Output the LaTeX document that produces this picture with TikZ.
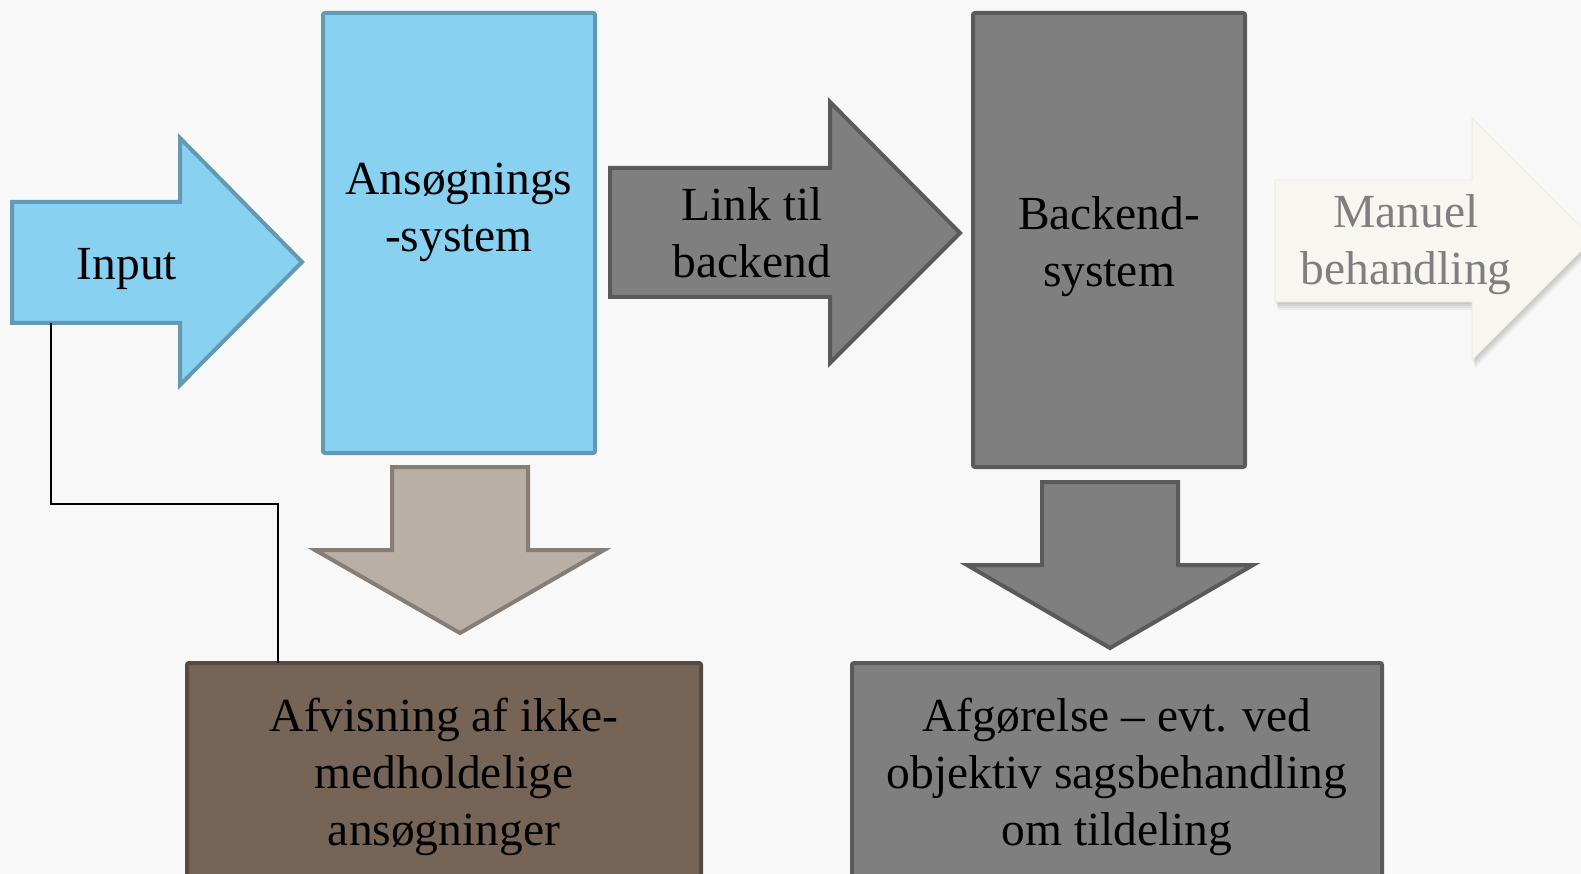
\documentclass[tikz,border=0pt]{standalone}
\usepackage{fontspec}
\setmainfont{Liberation Serif}
\definecolor{bgc}{HTML}{F8F8F8}
\definecolor{blueF}{HTML}{89D1F1}
\definecolor{blueD}{HTML}{6399B2}
\definecolor{taupeF}{HTML}{B8AFA6}
\definecolor{taupeD}{HTML}{867E76}
\definecolor{darkF}{HTML}{7F7F7F}
\definecolor{darkD}{HTML}{5A5A5A}
\definecolor{brownF}{HTML}{766556}
\definecolor{brownD}{HTML}{574A40}
\definecolor{creamF}{HTML}{F8F6F0}
\definecolor{creamD}{HTML}{EEECE6}
\definecolor{creamT}{HTML}{7F7F7F}
\begin{document}
\begin{tikzpicture}[x=1pt,y=-1pt,
  bigtext/.style={font=\fontsize{47.5}{57}\selectfont, align=center, inner sep=0pt, text height=35pt, text depth=11pt},
  blueshape/.style={fill=blueF, draw=blueD, line width=4pt, line join=miter},
  taupeshape/.style={fill=taupeF, draw=taupeD, line width=4pt, line join=miter},
  darkshape/.style={fill=darkF, draw=darkD, line width=4pt, line join=miter},
  brownshape/.style={fill=brownF, draw=brownD, line width=4pt},
  creamshape/.style={fill=creamF, draw=creamD, line width=1pt, line join=miter},
  boxnode/.style={rectangle, rounded corners=2pt, outer sep=0pt, inner sep=0pt},
  conn/.style={draw=black, line width=2pt}
]
\fill[bgc] (0,0) rectangle (1581,874);
\clip (0,0) rectangle (1581,874);

% Input arrow
\draw[blueshape] (12,202) -- (180,202) -- (180,138) -- (302,262) -- (180,385) -- (180,323) -- (12,323) -- cycle;
\node[bigtext] (input) at (127,268) {Input};
\coordinate (inbot) at (51,323);

% Ansoegnings-system box
\node[boxnode, blueshape, minimum width=272pt, minimum height=440pt] (ansog) at (459,233) {};
\node[bigtext] (ansogT) at (459,239.5) {Ansøgnings\\-system};

% Down arrow 1
\draw[taupeshape] (392,467) -- (528,467) -- (528,550) -- (604,550) -- (460,633) -- (315,550) -- (392,550) -- cycle;

% Link arrow
\draw[darkshape] (610,168) -- (830,168) -- (830,102) -- (960,233) -- (830,363) -- (830,297) -- (610,297) -- cycle;
\node[bigtext] (link) at (752,266) {Link til\\backend};

% Backend-system box
\node[boxnode, darkshape, minimum width=272pt, minimum height=454pt] (backend) at (1109,240) {};
\node[bigtext] (backendT) at (1109,275) {Backend-\\system};

% Down arrow 2
\draw[darkshape] (1042,482) -- (1178,482) -- (1178,565) -- (1253,565) -- (1110,648) -- (967,565) -- (1042,565) -- cycle;

% Manuel behandling arrow (faded, with soft shadow)
\foreach \d in {2,4,6,8} {
  \fill[black, opacity=0.05, shift={(0.4*\d,\d)}] (1275,180) -- (1472,180) -- (1472,118) -- (1593,239) -- (1472,360) -- (1472,302) -- (1275,302) -- cycle;
}
\draw[creamshape] (1275,180) -- (1472,180) -- (1472,118) -- (1593,239) -- (1472,360) -- (1472,302) -- (1275,302) -- cycle;
\node[bigtext, text=creamT] (manuel) at (1406,273) {Manuel\\behandling};

% Bottom boxes
\node[boxnode, brownshape, minimum width=514pt, minimum height=260pt] (afvis) at (444,793) {};
\node[bigtext] (afvisT) at (444,833) {Afvisning af ikke-\\medholdelige\\ansøgninger};

\node[boxnode, darkshape, minimum width=530pt, minimum height=260pt] (afgor) at (1117,793) {};
\node[bigtext] (afgorT) at (1117,833) {Afgørelse – evt. ved\\objektiv sagsbehandling\\om tildeling};

% Connector
\coordinate (bend) at (51,504);
\draw[conn] (inbot) -- (bend) -| ([xshift=91pt]afvis.north west);
\end{tikzpicture}
\end{document}
